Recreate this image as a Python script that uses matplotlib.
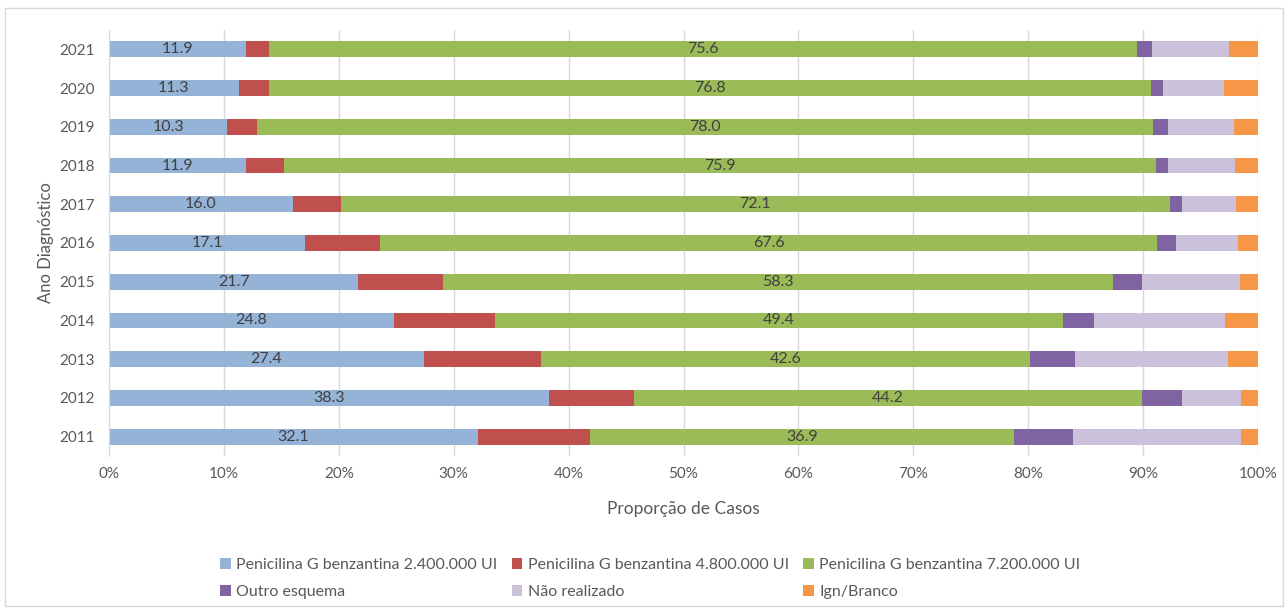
import matplotlib
matplotlib.use("Agg")
import matplotlib.pyplot as plt
from matplotlib.patches import Rectangle
import numpy as np

plt.rcParams['font.family'] = ['Lato', 'DejaVu Sans']

years = ["2011", "2012", "2013", "2014", "2015", "2016", "2017", "2018", "2019", "2020", "2021"]
series_names = [
    "Penicilina G benzantina 2.400.000 UI",
    "Penicilina G benzantina 4.800.000 UI",
    "Penicilina G benzantina 7.200.000 UI",
    "Outro esquema",
    "Não realizado",
    "Ign/Branco",
]
pen_2400 = [32.1, 38.3, 27.4, 24.8, 21.7, 17.1, 16.0, 11.9, 10.3, 11.3, 11.9]
pen_4800 = [9.8, 7.4, 10.2, 8.8, 7.4, 6.5, 4.2, 3.3, 2.6, 2.6, 2.0]
pen_7200 = [36.9, 44.2, 42.6, 49.4, 58.3, 67.6, 72.1, 75.9, 78.0, 76.8, 75.6]
outro = [5.1, 3.5, 3.9, 2.7, 2.5, 1.7, 1.1, 1.1, 1.3, 1.0, 1.3]
nao_realizado = [14.6, 5.1, 13.3, 11.4, 8.5, 5.4, 4.7, 5.8, 5.7, 5.3, 6.7]
ign_branco = [1.5, 1.5, 2.6, 2.9, 1.6, 1.7, 1.9, 2.0, 2.1, 3.0, 2.5]

series = [pen_2400, pen_4800, pen_7200, outro, nao_realizado, ign_branco]
colors = ["#95B3D7", "#C0504D", "#9BBB59", "#8064A2", "#CCC1DA", "#F79646"]
labeled = [True, False, True, False, False, False]

fig = plt.figure(figsize=(12.88, 6.09), dpi=100)
ax = fig.add_axes([109/1288, 1 - 456/609, (1258 - 109)/1288, (456 - 30)/609])

y = np.arange(len(years))
left = np.zeros(len(years))
handles = []
for vals, col, name, lab in zip(series, colors, series_names, labeled):
    vals = np.array(vals)
    bars = ax.barh(y, vals, left=left, height=0.41, color=col, label=name, zorder=3)
    handles.append(bars)
    if lab:
        for yi, l, v in zip(y, left, vals):
            ax.text(l + v / 2, yi, f"{v:.1f}", ha="center", va="center",
                    fontsize=11.5, color="#404040", zorder=4)
    left = left + vals

ax.set_xlim(0, 100)
ax.set_ylim(-0.5, len(years) - 0.5)
ax.set_yticks(y)
ax.set_yticklabels(years)
ax.set_xticks(np.arange(0, 101, 10))
ax.set_xticklabels([f"{t}%" for t in range(0, 101, 10)])
ax.tick_params(axis="both", length=0, labelsize=11, colors="#595959")
ax.tick_params(axis="x", pad=8)
ax.tick_params(axis="y", pad=10)
ax.grid(axis="x", color="#D9D9D9", linewidth=1, zorder=0)
for s in ["top", "right", "bottom"]:
    ax.spines[s].set_visible(False)
ax.spines["left"].set_color("#D9D9D9")
ax.spines["left"].set_zorder(5)

ax.set_xlabel("Proporção de Casos", fontsize=12.5, color="#595959", labelpad=14)
ax.set_ylabel("Ano Diagnóstico", fontsize=12, color="#595959", labelpad=4)

# column-major order so rows read: 2.4M, 4.8M, 7.2M / Outro, Não, Ign
order = [0, 3, 1, 4, 2, 5]
leg = fig.legend([handles[i] for i in order], [series_names[i] for i in order],
                 loc="lower center", ncol=3,
                 bbox_to_anchor=(0.505, -0.007), frameon=False, fontsize=11.5,
                 handlelength=0.65, handleheight=0.65, handletextpad=0.35,
                 columnspacing=0.9, labelspacing=0.8)
for t in leg.get_texts():
    t.set_color("#595959")

fig.patches.append(Rectangle((5/1288, 3/609), 1 - 10/1288, 1 - 11/609,
                             transform=fig.transFigure, fill=False,
                             edgecolor="#D9D9D9", linewidth=1))

fig.savefig("out.png", dpi=100, facecolor="white")
